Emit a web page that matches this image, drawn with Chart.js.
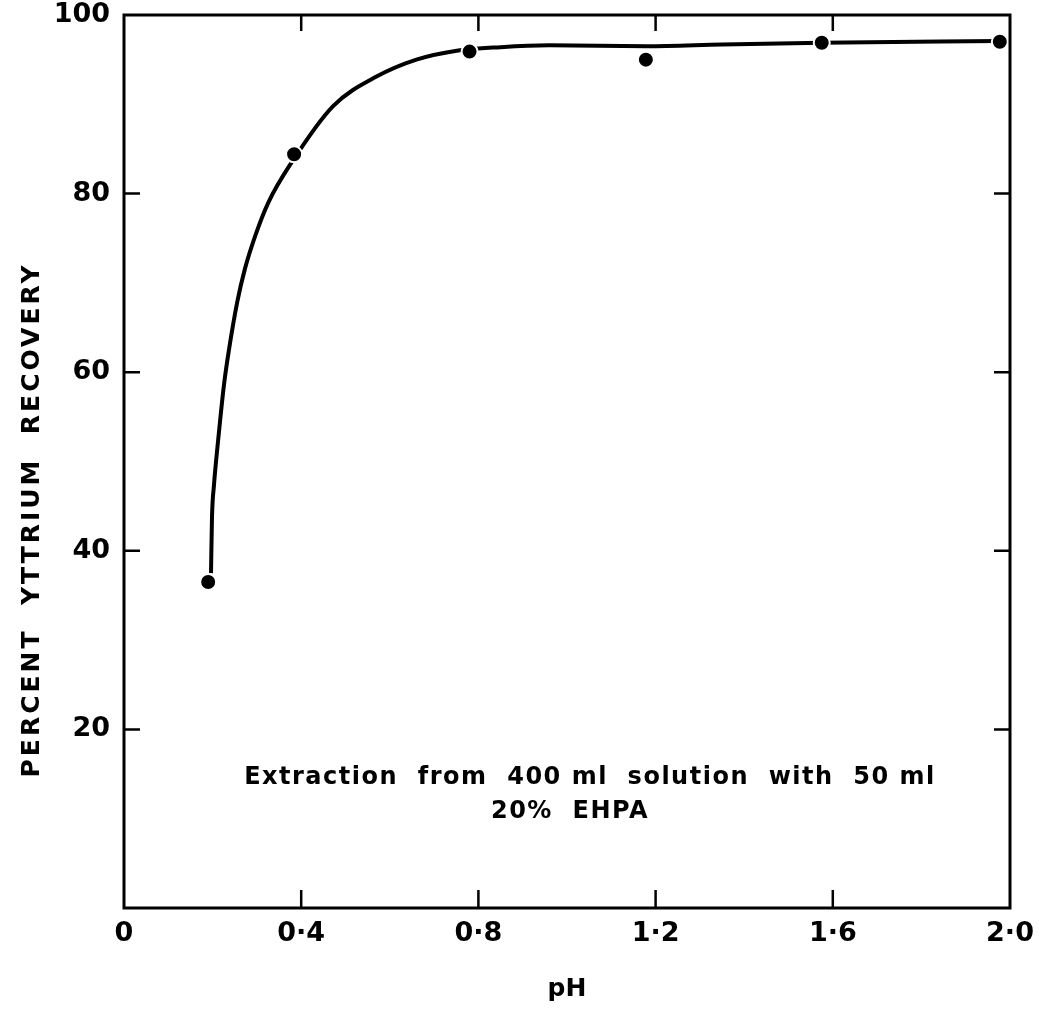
<!DOCTYPE html>
<html>
<head>
<meta charset="utf-8">
<script src="https://cdn.jsdelivr.net/npm/chart.js@4.4.0/dist/chart.umd.min.js"></script>
<style>
  html, body { margin: 0; padding: 0; background: #fff; }
  #wrap { width: 1039px; height: 1012px; }
</style>
</head>
<body>
<div id="wrap"><canvas id="chart"></canvas></div>
<script>
// measured points (pH, % recovery)
const phValues = [0.19, 0.384, 0.78, 1.178, 1.575, 1.977];
const recoveryValues = [36.5, 84.4, 95.9, 95.0, 96.9, 97.0];

// hand drawn curve
const curvePh = [0.1964, 0.1986, 0.2032, 0.2099, 0.2174, 0.2257, 0.2363, 0.2558, 0.2731, 0.2964, 0.3258, 0.3785, 0.472, 0.57, 0.66, 0.751, 0.85, 0.96, 1.18, 1.35, 1.575, 1.977];
const curveRecovery = [37.5, 43.7, 47.4, 51.1, 54.8, 58.6, 62.3, 67.9, 71.6, 75.3, 79.0, 83.5, 89.8, 93.1, 95.0, 96.0, 96.4, 96.6, 96.5, 96.7, 96.9, 97.1];

const xTickValues = [0, 0.4, 0.8, 1.2, 1.6, 2.0];
const xTickLabels = ['0', '0·4', '0·8', '1·2', '1·6', '2·0'];
const yTickValues = [0, 20, 40, 60, 80, 100];
const yTickLabels = ['', '20', '40', '60', '80', '100'];

const yTitle = 'PERCENT  YTTRIUM  RECOVERY';
const xTitle = 'pH';
const noteLines = ['Extraction  from  400 ml  solution  with  50 ml', '20%  EHPA'];

const FONT = '"DejaVu Sans", sans-serif';

// frame, inward ticks and the text inside the plot
const framePlugin = {
    id: 'framePlugin',
    afterDraw(chart) {
        const ctx = chart.ctx;
        const a = chart.chartArea;
        const x = chart.scales.x;
        const y = chart.scales.y;
        ctx.save();
        ctx.strokeStyle = '#000';
        ctx.lineWidth = 3;
        ctx.strokeRect(a.left, a.top, a.right - a.left, a.bottom - a.top);

        ctx.lineWidth = 2.5;
        ctx.beginPath();
        xTickValues.slice(1, -1).forEach(v => {
            const px = x.getPixelForValue(v);
            ctx.moveTo(px, a.bottom); ctx.lineTo(px, a.bottom - 18);
            ctx.moveTo(px, a.top); ctx.lineTo(px, a.top + 16);
        });
        yTickValues.slice(1, -1).forEach(v => {
            const py = y.getPixelForValue(v);
            ctx.moveTo(a.left, py); ctx.lineTo(a.left + 16, py);
            ctx.moveTo(a.right, py); ctx.lineTo(a.right - 16, py);
        });
        ctx.stroke();

        // y axis title
        ctx.fillStyle = '#000';
        ctx.font = 'bold 25px ' + FONT;
        ctx.letterSpacing = '3px';
        ctx.textAlign = 'center';
        ctx.textBaseline = 'middle';
        ctx.save();
        ctx.translate(32, 520);
        ctx.rotate(-Math.PI / 2);
        ctx.fillText(yTitle, 0, 0);
        ctx.restore();

        // note
        ctx.font = 'bold 24px ' + FONT;
        ctx.letterSpacing = '1.5px';
        ctx.fillText(noteLines[0], 590, 778);
        ctx.fillText(noteLines[1], 570, 812);
        ctx.restore();
    }
};

const ctx = document.getElementById('chart').getContext('2d');
new Chart(ctx, {
    type: 'scatter',
    data: {
        datasets: [
            {
                label: 'Measured',
                data: phValues.map((p, i) => ({ x: p, y: recoveryValues[i] })),
                pointRadius: 8,
                pointBackgroundColor: '#000',
                pointBorderColor: '#fff',
                pointBorderWidth: 2,
                showLine: false,
                clip: false
            },
            {
                label: 'Curve',
                data: curvePh.map((p, i) => ({ x: p, y: curveRecovery[i] })),
                showLine: true,
                pointRadius: 0,
                borderColor: '#000',
                borderWidth: 4,
                cubicInterpolationMode: 'monotone',
                clip: false
            }
        ]
    },
    options: {
        responsive: true,
        maintainAspectRatio: false,
        animation: false,
        layout: { padding: { top: 15, right: 29, left: 0, bottom: 0 } },
        plugins: {
            legend: { display: false },
            tooltip: { enabled: false }
        },
        scales: {
            x: {
                type: 'linear',
                min: 0,
                max: 2.0,
                afterFit: s => { s.height = 104; s.paddingLeft = 0; s.paddingRight = 0; },
                afterBuildTicks: s => { s.ticks = xTickValues.map(v => ({ value: v })); },
                grid: { display: false, drawTicks: false },
                border: { display: false },
                ticks: {
                    color: '#000',
                    font: { family: FONT, size: 27, weight: 'bold' },
                    padding: 10,
                    maxRotation: 0,
                    callback: (v, i) => xTickLabels[i]
                },
                title: {
                    display: true,
                    text: xTitle,
                    color: '#000',
                    font: { family: FONT, size: 25, weight: 'bold' },
                    padding: { top: 0, bottom: 8 }
                }
            },
            y: {
                type: 'linear',
                min: 0,
                max: 100,
                afterFit: s => { s.width = 124; s.paddingTop = 0; s.paddingBottom = 0; },
                afterBuildTicks: s => { s.ticks = yTickValues.map(v => ({ value: v })); },
                grid: { display: false, drawTicks: false },
                border: { display: false },
                ticks: {
                    color: '#000',
                    font: { family: FONT, size: 27, weight: 'bold' },
                    padding: 14,
                    callback: (v, i) => yTickLabels[i]
                }
            }
        }
    },
    plugins: [framePlugin]
});
</script>
</body>
</html>
